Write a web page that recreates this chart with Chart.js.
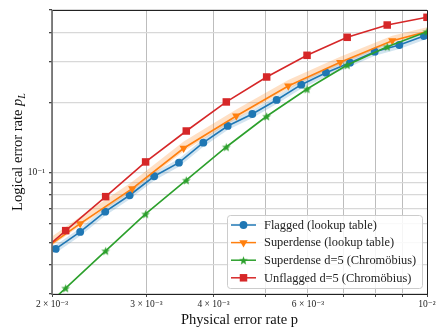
<!DOCTYPE html>
<html>
<head>
<meta charset="utf-8">
<script src="https://cdn.jsdelivr.net/npm/chart.js@4.4.1/dist/chart.umd.min.js"></script>
<style>
html, body { margin: 0; padding: 0; background: #fff; }
#wrap { width: 448px; height: 336px; }
</style>
</head>
<body>
<div id="wrap"><canvas id="chart" width="448" height="336"></canvas></div>
<script>
// =============================================================================
// DATA
// =============================================================================

const flaggedP  = [2.032e-3, 2.257e-3, 2.513e-3, 2.791e-3, 3.101e-3, 3.449e-3, 3.829e-3, 4.251e-3,
                   4.725e-3, 5.245e-3, 5.829e-3, 6.483e-3, 7.186e-3, 7.99e-3, 8.88e-3, 9.87e-3];
const flaggedPL = [0.0469, 0.0555, 0.0678, 0.0798, 0.0963, 0.1102, 0.1343, 0.1585,
                   0.1785, 0.2051, 0.2386, 0.2687, 0.2967, 0.3308, 0.3535, 0.3865];
const flaggedHi = [0.0488, 0.0577, 0.0705, 0.0830, 0.1002, 0.1146, 0.1397, 0.1648,
                   0.1856, 0.2133, 0.2481, 0.2794, 0.3086, 0.3440, 0.3676, 0.4020];
const flaggedLo = [0.0450, 0.0533, 0.0651, 0.0766, 0.0924, 0.1058, 0.1289, 0.1522,
                   0.1714, 0.1969, 0.2291, 0.2580, 0.2848, 0.3176, 0.3394, 0.3710];

const superP  = [1.807e-3, 2.257e-3, 2.822e-3, 3.519e-3, 4.41e-3, 5.513e-3, 6.89e-3, 8.615e-3, 1.077e-2];
const superPL = [0.0420, 0.0602, 0.0852, 0.1271, 0.1750, 0.2355, 0.2978, 0.3689, 0.4217];
const superHi = [0.0450, 0.0645, 0.0912, 0.1360, 0.1865, 0.2500, 0.3150, 0.3870, 0.4390];
const superLo = [0.0410, 0.0588, 0.0830, 0.1235, 0.1700, 0.2290, 0.2905, 0.3615, 0.4140];
const superMarks = [0, 1, 1, 1, 1, 1, 1, 1, 0];

const chromoP     = [1.785e-3, 2.121e-3, 2.518e-3, 2.989e-3, 3.559e-3, 4.226e-3, 5.025e-3, 5.976e-3, 7.10e-3, 8.43e-3, 1.0e-2];
const superD5PL   = [0.0220, 0.0318, 0.0460, 0.0663, 0.0926, 0.1287, 0.1745, 0.2286, 0.2900, 0.3476, 0.4034];
const unflaggedPL = [0.0398, 0.0562, 0.0787, 0.1110, 0.1508, 0.2011, 0.2575, 0.3192, 0.3815, 0.4309, 0.4651];

const xTickValues = [0.002, 0.003, 0.004, 0.005, 0.006, 0.007, 0.008, 0.009, 0.01];
const xTickLabels = ['2 × 10⁻³', '3 × 10⁻³', '4 × 10⁻³', '', '6 × 10⁻³', '', '', '', '10⁻²'];
const yTickValues = [0.03, 0.04, 0.05, 0.06, 0.07, 0.08, 0.09, 0.1, 0.2, 0.3, 0.4, 0.5];
const yTickLabels = ['', '', '', '', '', '', '', '10⁻¹', '', '', '', ''];

// =============================================================================
// HELPERS
// =============================================================================

const colors = { blue: '#1f77b4', orange: '#ff7f0e', green: '#2ca02c', red: '#d62728' };
const serif = "'Liberation Serif', 'DejaVu Serif', serif";

function pts(xs, ys) {
    return xs.map((x, i) => ({ x: x, y: ys[i] }));
}

function makeStar(color, rOut, rIn) {
    const s = 11;
    const c = document.createElement('canvas');
    c.width = s; c.height = s;
    const g = c.getContext('2d');
    g.translate(s / 2, s / 2 + 0.5);
    g.beginPath();
    for (let i = 0; i < 10; i++) {
        const r = i % 2 ? rIn : rOut;
        const a = -Math.PI / 2 + i * Math.PI / 5;
        g.lineTo(r * Math.cos(a), r * Math.sin(a));
    }
    g.closePath();
    g.fillStyle = color;
    g.fill();
    return c;
}

const starImg = makeStar(colors.green, 4.6, 1.9);

// frame, matplotlib-like legend box and axis titles
const boxLegend = {
    id: 'boxLegend',
    afterDatasetsDraw(chart) {
        const ctx = chart.ctx;
        const a = chart.chartArea;
        // frame
        ctx.save();
        ctx.lineWidth = 1;
        ctx.strokeStyle = '#222';
        ctx.beginPath();
        ctx.moveTo(a.left, a.top + 0.5); ctx.lineTo(a.right + 0.5, a.top + 0.5);
        ctx.lineTo(a.right + 0.5, a.bottom + 0.5); ctx.lineTo(a.left, a.bottom + 0.5);
        ctx.stroke();
        ctx.strokeStyle = '#666';
        ctx.lineWidth = 1.6;
        ctx.beginPath();
        ctx.moveTo(a.left, a.top); ctx.lineTo(a.left, a.bottom + 1);
        ctx.stroke();

        // legend
        const x0 = 227, y0 = 215, w = 195, h = 73;
        ctx.fillStyle = 'rgba(255,255,255,0.85)';
        ctx.strokeStyle = '#cccccc';
        ctx.lineWidth = 1;
        ctx.beginPath();
        ctx.roundRect(x0 + 0.5, y0 + 0.5, w, h, 3);
        ctx.fill();
        ctx.stroke();

        const order = [3, 2, 1, 0];
        order.forEach((di, row) => {
            const ds = chart.data.datasets[di];
            const y = y0 + 10 + row * 17.6;
            ctx.strokeStyle = ds.borderColor;
            ctx.lineWidth = 1.5;
            ctx.beginPath();
            ctx.moveTo(231, y); ctx.lineTo(256, y);
            ctx.stroke();
            ctx.fillStyle = ds.borderColor;
            Chart.helpers.drawPoint(ctx, {
                pointStyle: ds.pointStyle,
                radius: ds.legendRadius,
                rotation: ds.pointRotation || 0,
                borderWidth: 0
            }, 243.5, y);
            ctx.fillStyle = '#222';
            ctx.font = '12.4px ' + serif;
            ctx.textAlign = 'left';
            ctx.textBaseline = 'middle';
            ctx.fillText(ds.label, 264, y + 0.5);
        });

        // axis titles
        ctx.fillStyle = '#111';
        ctx.font = '14.5px ' + serif;
        ctx.textAlign = 'center';
        ctx.textBaseline = 'middle';
        ctx.fillText('Physical error rate p', (a.left + a.right) / 2, 320);

        ctx.translate(18, (a.top + a.bottom) / 2);
        ctx.rotate(-Math.PI / 2);
        const base = 'Logical error rate ';
        ctx.font = '14.5px ' + serif;
        const wBase = ctx.measureText(base).width;
        ctx.font = 'italic 14.5px ' + serif;
        const wP = ctx.measureText('p').width;
        ctx.font = 'italic 10px ' + serif;
        const wL = ctx.measureText('L').width;
        let tx = -(wBase + wP + wL) / 2;
        ctx.textAlign = 'left';
        ctx.textBaseline = 'alphabetic';
        ctx.font = '14.5px ' + serif;
        ctx.fillText(base, tx, 4);
        tx += wBase;
        ctx.font = 'italic 14.5px ' + serif;
        ctx.fillText('p', tx, 4);
        tx += wP;
        ctx.font = 'italic 10px ' + serif;
        ctx.fillText('L', tx, 7);
        ctx.restore();
    }
};

// =============================================================================
// CHART
// =============================================================================

new Chart(document.getElementById('chart').getContext('2d'), {
    type: 'line',
    data: {
        datasets: [
            {
                label: 'Unflagged d=5 (Chromöbius)',
                data: pts(chromoP, unflaggedPL),
                borderColor: colors.red, backgroundColor: colors.red,
                pointStyle: 'rect', pointRadius: 5.3, legendRadius: 5.3,
                pointBorderWidth: 0, borderWidth: 1.6, order: 1
            },
            {
                label: 'Superdense d=5 (Chromöbius)',
                data: pts(chromoP, superD5PL),
                borderColor: colors.green, backgroundColor: colors.green,
                pointStyle: starImg, pointRadius: 4.5, legendRadius: 4.5,
                pointBorderWidth: 0, borderWidth: 1.6, order: 2
            },
            {
                label: 'Superdense (lookup table)',
                data: pts(superP, superPL),
                borderColor: colors.orange, backgroundColor: colors.orange,
                pointStyle: 'triangle', pointRotation: 180,
                pointRadius: superMarks.map(m => m * 4.8), legendRadius: 4.8,
                pointBorderWidth: 0, borderWidth: 1.6, order: 3
            },
            {
                label: 'Flagged (lookup table)',
                data: pts(flaggedP, flaggedPL),
                borderColor: colors.blue, backgroundColor: colors.blue,
                pointStyle: 'circle', pointRadius: 3.9, legendRadius: 3.9,
                pointBorderWidth: 0, borderWidth: 1.6, order: 4
            },
            {
                label: 'superHi', data: pts(superP, superHi),
                borderWidth: 0, pointRadius: 0, fill: false, order: 5
            },
            {
                label: 'superLo', data: pts(superP, superLo),
                borderWidth: 0, pointRadius: 0, fill: '-1',
                backgroundColor: 'rgba(255,127,14,0.24)', order: 5
            },
            {
                label: 'flaggedHi', data: pts(flaggedP, flaggedHi),
                borderWidth: 0, pointRadius: 0, fill: false, order: 6
            },
            {
                label: 'flaggedLo', data: pts(flaggedP, flaggedLo),
                borderWidth: 0, pointRadius: 0, fill: '-1',
                backgroundColor: 'rgba(31,119,180,0.2)', order: 6
            }
        ]
    },
    options: {
        responsive: false,
        animation: false,
        layout: { padding: { left: 0, right: 21, top: 10, bottom: 0 } },
        elements: { line: { tension: 0 } },
        plugins: {
            legend: { display: false },
            tooltip: { enabled: false }
        },
        scales: {
            x: {
                type: 'logarithmic',
                min: 0.002, max: 0.01,
                afterBuildTicks: s => { s.ticks = xTickValues.map(v => ({ value: v })); },
                afterFit: s => { s.height = 42; },
                grid: { color: '#b5b5b5', lineWidth: 0.9, tickColor: '#333', tickLength: 3 },
                border: { display: false },
                ticks: {
                    autoSkip: false, maxRotation: 0, padding: 2,
                    color: '#222', font: { family: serif, size: 9.5 },
                    callback: (v, i) => xTickLabels[i]
                }
            },
            y: {
                type: 'logarithmic',
                min: 0.03, max: 0.5,
                afterBuildTicks: s => { s.ticks = yTickValues.map(v => ({ value: v })); },
                afterFit: s => { s.width = 52; },
                grid: { color: '#d8d8d8', lineWidth: 1.3, tickColor: '#444', tickLength: 3 },
                border: { display: false },
                ticks: {
                    autoSkip: false, padding: 4,
                    color: '#222', font: { family: serif, size: 9.5 },
                    callback: (v, i) => yTickLabels[i]
                }
            }
        }
    },
    plugins: [boxLegend]
});
</script>
</body>
</html>
